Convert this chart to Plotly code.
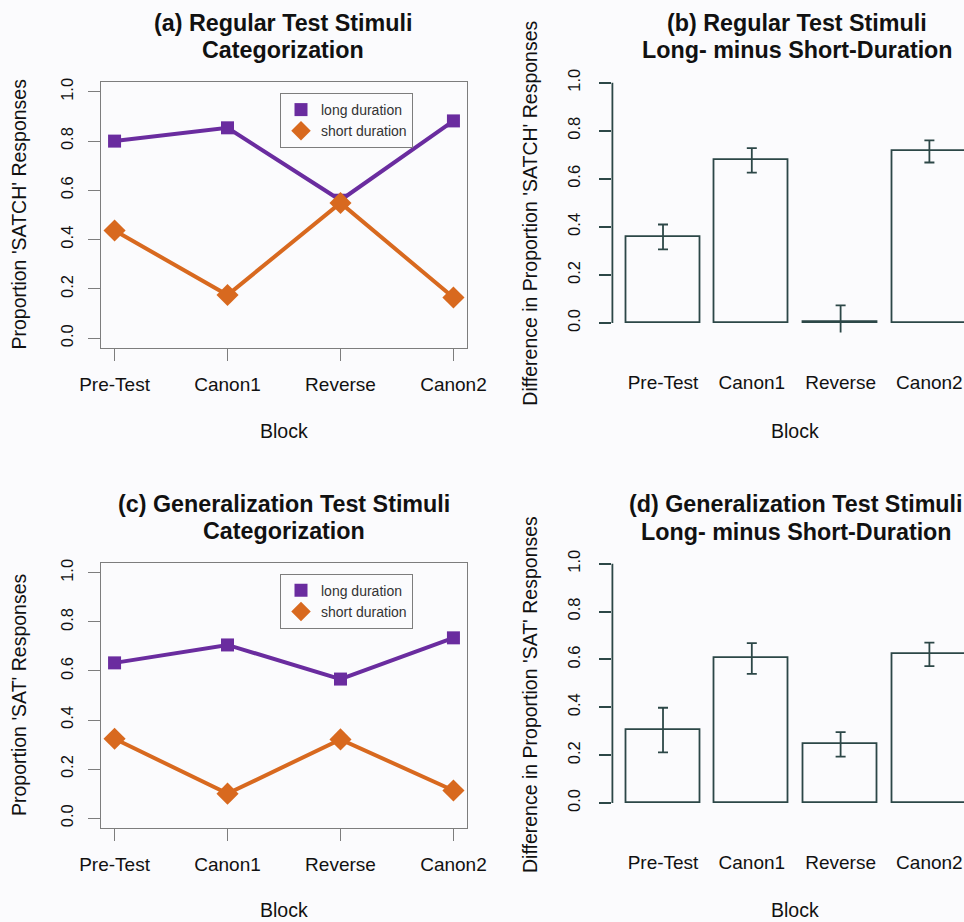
import plotly.graph_objects as go

blocks = ["Pre-Test", "Canon1", "Reverse", "Canon2"]
block_pos = [1, 2, 3, 4]
bar_pos = [0.7, 1.9, 3.1, 4.3]

# (a) regular test stimuli: proportion 'SATCH'
reg_long = [0.80, 0.854, 0.560, 0.882]
reg_short = [0.437, 0.175, 0.549, 0.165]
# (b) long minus short
reg_diff = [0.358, 0.677, 0.003, 0.714]
reg_diff_err = [0.052, 0.051, 0.070, 0.046]
# (c) generalization test stimuli: proportion 'SAT'
gen_long = [0.633, 0.706, 0.567, 0.735]
gen_short = [0.324, 0.100, 0.321, 0.113]
# (d) long minus short
gen_diff = [0.305, 0.604, 0.245, 0.621]
gen_diff_err = [0.093, 0.064, 0.051, 0.049]

W, H = 964, 922
PURPLE = "#6a2c9f"
ORANGE = "#d8691f"
DARK = "#2c4747"
BOXGREY = "#7d7d7d"
BG = "#fbfbfd"
FONT = "Liberation Sans, Arial, sans-serif"


def px_x(p):
    return p / W


def px_y(p):
    return 1 - p / H


fig = go.Figure()

# line panels
for xa, ya, longv, shortv, leg in [("x", "y", reg_long, reg_short, "legend"),
                                   ("x3", "y3", gen_long, gen_short, "legend2")]:
    fig.add_trace(go.Scatter(x=block_pos, y=longv, xaxis=xa, yaxis=ya, mode="lines+markers",
                             line=dict(color=PURPLE, width=4),
                             marker=dict(symbol="square", size=13, color=PURPLE),
                             showlegend=False, cliponaxis=False))
    fig.add_trace(go.Scatter(x=block_pos, y=shortv, xaxis=xa, yaxis=ya, mode="lines+markers",
                             line=dict(color=ORANGE, width=4),
                             marker=dict(symbol="diamond", size=17, color=ORANGE),
                             showlegend=False, cliponaxis=False))
    fig.add_trace(go.Scatter(x=[None], y=[None], xaxis=xa, yaxis=ya, mode="markers",
                             marker=dict(symbol="square", size=13, color=PURPLE),
                             name="long duration", legend=leg))
    fig.add_trace(go.Scatter(x=[None], y=[None], xaxis=xa, yaxis=ya, mode="markers",
                             marker=dict(symbol="diamond", size=15, color=ORANGE),
                             name="short duration", legend=leg))

# bar panels
for xa, ya, vals, errs in [("x2", "y2", reg_diff, reg_diff_err),
                           ("x4", "y4", gen_diff, gen_diff_err)]:
    fig.add_trace(go.Bar(x=bar_pos, y=vals, xaxis=xa, yaxis=ya, width=1,
                         marker=dict(color=BG, line=dict(color=DARK, width=1.8)),
                         error_y=dict(type="data", array=errs, visible=True,
                                      color=DARK, thickness=1.8, width=5),
                         showlegend=False))

line_x = dict(range=[0.88, 4.12], tickvals=block_pos, ticktext=blocks, ticks="outside",
              ticklen=12, tickwidth=1, tickcolor=BOXGREY, showline=True, mirror=True,
              linecolor=BOXGREY, linewidth=1, showgrid=False, zeroline=False,
              automargin=False,
              tickfont=dict(size=19, color="#111"), ticklabelstandoff=7)
line_y = dict(range=[-0.04, 1.04], tickvals=[0, 0.2, 0.4, 0.6, 0.8, 1.0],
              ticktext=["0.0", "0.2", "0.4", "0.6", "0.8", "1.0"], ticks="outside",
              ticklen=12, tickwidth=1, tickcolor=BOXGREY, showline=True, mirror=True,
              linecolor=BOXGREY, linewidth=1, showgrid=False, zeroline=False,
              automargin=False,
              tickangle=-90, tickfont=dict(size=16.5, color="#111"), ticklabelstandoff=8)
bar_x = dict(range=[0.016, 0.2 + (W - 626) / 74.0], tickvals=bar_pos, ticktext=blocks,
             ticks="", showline=False, showgrid=False, zeroline=False, automargin=False,
             tickfont=dict(size=19, color="#111"), ticklabelstandoff=36)
bar_y = dict(range=[-0.04, 1.04], tickvals=[0, 0.2, 0.4, 0.6, 0.8, 1.0],
             ticktext=["0.0", "0.2", "0.4", "0.6", "0.8", "1.0"], ticks="outside",
             ticklen=12, tickwidth=1.8, tickcolor=DARK, showline=False, showgrid=False,
             zeroline=False, automargin=False, tickangle=-90,
             tickfont=dict(size=16.5, color="#111"), ticklabelstandoff=13)

fig.update_layout(
    width=W, height=H, margin=dict(l=0, r=0, t=0, b=0, pad=0, autoexpand=False),
    paper_bgcolor=BG, plot_bgcolor=BG, font=dict(family=FONT, color="#111"),
    bargap=0,
    xaxis=dict(line_x, domain=[px_x(101), px_x(467)], anchor="y"),
    yaxis=dict(line_y, domain=[px_y(348), px_y(82)], anchor="x"),
    xaxis3=dict(line_x, domain=[px_x(101), px_x(467)], anchor="y3"),
    yaxis3=dict(line_y, domain=[px_y(828), px_y(563)], anchor="x3"),
    xaxis2=dict(bar_x, domain=[px_x(612.4), 1.0], anchor="y2"),
    yaxis2=dict(bar_y, domain=[px_y(332.6), px_y(73.1)], anchor="x2"),
    xaxis4=dict(bar_x, domain=[px_x(612.4), 1.0], anchor="y4"),
    yaxis4=dict(bar_y, domain=[px_y(812.6), px_y(554.1)], anchor="x4"),
    legend=dict(x=px_x(280), y=px_y(93), xanchor="left", yanchor="top",
                bordercolor=BOXGREY, borderwidth=1, bgcolor=BG,
                font=dict(size=14, color="#333"), tracegroupgap=0, itemwidth=30),
    legend2=dict(x=px_x(280), y=px_y(573.7), xanchor="left", yanchor="top",
                 bordercolor=BOXGREY, borderwidth=1, bgcolor=BG,
                 font=dict(size=14, color="#333"), tracegroupgap=0, itemwidth=30),
)

# y axis lines for bar panels (R draws from first to last tick)
for xr, yr in [("x2 domain", "y2"), ("x4 domain", "y4")]:
    fig.add_shape(type="line", xref=xr, yref=yr, x0=0, x1=0, y0=0, y1=1,
                  line=dict(color=DARK, width=1.8))

annots = []


def txt(text, x, y, size, bold=False, angle=0):
    annots.append(dict(text=f"<b>{text}</b>" if bold else text, x=px_x(x), y=px_y(y),
                       xref="paper", yref="paper", showarrow=False, xanchor="center",
                       yanchor="middle", textangle=angle,
                       font=dict(size=size, family=FONT, color="#111")))


TS = 23.3
txt("(a) Regular Test Stimuli", 283, 23, TS, True)
txt("Categorization", 283, 50, TS, True)
txt("(b) Regular Test Stimuli", 797, 23, TS, True)
txt("Long- minus Short-Duration", 797, 50, TS, True)
txt("(c) Generalization Test Stimuli", 284, 504, TS, True)
txt("Categorization", 284, 531, TS, True)
txt("(d) Generalization Test Stimuli", 796, 504, TS, True)
txt("Long- minus Short-Duration", 796, 532, TS, True)

AS = 19.5
txt("Proportion 'SATCH' Responses", 19, 214.5, AS, angle=-90)
txt("Proportion 'SAT' Responses", 19, 695, AS, angle=-90)
txt("Difference in Proportion 'SATCH' Responses", 530, 213.7, AS, angle=-90)
txt("Difference in Proportion 'SAT' Responses", 530, 695, AS, angle=-90)
txt("Block", 284, 431, AS)
txt("Block", 795, 431, AS)
txt("Block", 284, 910, AS)
txt("Block", 795, 910, AS)

fig.update_layout(annotations=annots)
# remove the default page margin so the figure fills the window exactly
fig.write_html("out.html", config={"displayModeBar": False},
               post_script="document.body.style.margin='0';document.body.style.overflow='hidden';")
